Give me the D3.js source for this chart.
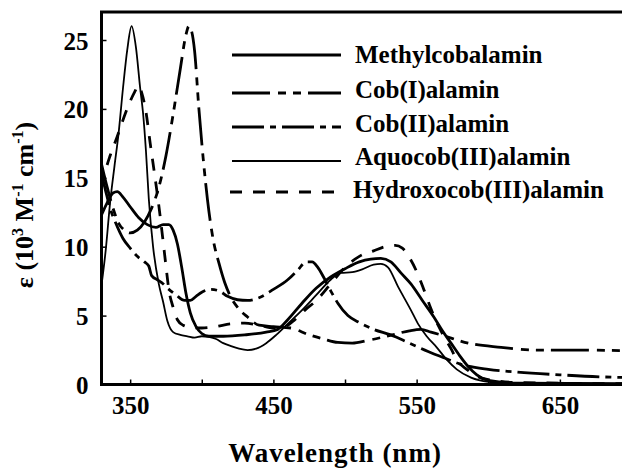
<!DOCTYPE html>
<html>
<head>
<meta charset="utf-8">
<script src="https://cdn.jsdelivr.net/npm/d3@7"></script>
<style>
  html, body { margin: 0; padding: 0; background: #fff; }
  svg { display: block; }
  text { font-family: "Liberation Serif", "Times New Roman", serif; font-weight: bold; fill: #000; }
</style>
</head>
<body>
<svg id="chart" width="622" height="468"></svg>
<script>
// Absorption spectra of cobalamins: [wavelength (nm), epsilon (10^3 M^-1 cm^-1)]
const methylcobalamin = [
  [330,12.3],[334,13.2],[338,13.9],[341,14.0],[345,13.6],[350,12.9],[356,12.1],[362,11.6],
  [368,11.4],[373,11.6],[377,11.6],[380,11.2],[383,10.2],[386,8.5],[389,6.6],[392,5.2],
  [396,4.2],[400,3.7],[405,3.5],[415,3.5],[430,3.6],[445,3.8],[453,4.0],[460,4.7],
  [470,5.9],[480,7.0],[490,7.8],[500,8.4],[510,8.9],[518,9.1],[525,9.15],[532,8.9],
  [539,8.1],[546,7.3],[554,6.1],[562,4.9],[568,3.9],[574,3.0],[580,2.1],[586,1.3],
  [592,0.7],[600,0.3],[620,0.1],[700,0.05]
];
const cobIalamin = [
  [330,16.0],[334,14.3],[338,12.8],[342,11.7],[346,11.2],[350,11.0],[355,11.2],[360,11.8],
  [365,12.8],[370,14.3],[375,16.6],[380,19.6],[385,22.9],[389,25.4],[391,26.0],[393,25.6],
  [395,24.2],[398,20.0],[401,16.4],[404,13.4],[408,10.5],[412,8.8],[416,7.4],[420,6.4],
  [425,5.6],[432,4.9],[440,4.3],[450,4.2],[462,4.1],[475,3.6],[485,3.3],[495,3.05],
  [505,3.0],[516,3.2],[533,3.6],[545,3.9],[553,4.0],[560,3.8],[567,3.6],[586,3.0],
  [609,2.7],[632,2.5],[660,2.5],[700,2.45]
];
const cobIIalamin = [
  [330,15.3],[333,14.0],[336,12.8],[340,11.7],[345,10.6],[350,9.9],[355,9.3],[360,8.9],
  [363,8.6],[365,7.9],[369,7.6],[372,7.4],[376,7.0],[382,6.5],[388,6.1],[392,6.1],
  [396,6.4],[400,6.7],[406,6.9],[412,6.8],[418,6.4],[425,6.15],[432,6.1],[440,6.3],
  [450,6.9],[460,7.6],[467,8.3],[473,8.9],[477,8.9],[481,8.5],[485,7.8],[490,6.8],
  [495,5.9],[502,5.0],[510,4.5],[520,4.0],[532,3.6],[545,3.0],[558,2.4],[570,1.9],
  [580,1.5],[600,1.1],[620,0.9],[650,0.7],[680,0.55],[700,0.5]
];
const aquocobalamin = [
  [330,7.2],[333,9.8],[336,13.2],[339,15.8],[342,18.3],[345,21.5],[348,24.3],[351,26.0],
  [354,24.5],[357,21.5],[359,19.7],[361,17.0],[363,13.5],[366,10.0],[370,7.3],[373,6.0],
  [376,4.6],[380,3.8],[385,3.6],[390,3.5],[395,3.4],[400,3.5],[405,3.45],[410,3.3],
  [415,3.0],[420,2.8],[426,2.6],[432,2.5],[438,2.6],[445,3.0],[452,3.6],[460,4.4],
  [470,5.4],[480,6.5],[490,7.6],[497,8.1],[505,8.15],[512,8.35],[520,8.7],[525,8.75],
  [530,8.5],[537,7.1],[546,5.4],[551,4.4],[557,3.5],[564,2.7],[571,1.8],[578,1.1],
  [588,0.5],[600,0.2],[620,0.08],[700,0.05]
];
const hydroxocobalamin = [
  [330,14.3],[333,15.6],[336,16.6],[341,18.0],[345,19.2],[349,20.3],[353,21.2],[356,21.7],
  [358,21.2],[361,19.8],[364,17.5],[367,15.3],[370,13.0],[373,10.4],[375,8.6],[377,6.9],
  [380,5.6],[383,4.7],[387,4.3],[392,4.15],[400,4.1],[410,4.2],[420,4.4],[430,4.45],
  [440,4.3],[450,4.1],[458,4.2],[465,4.7],[472,5.4],[480,6.1],[490,7.3],[500,8.5],
  [510,9.3],[520,9.7],[528,10.0],[535,10.1],[540,9.9],[545,9.2],[550,8.2],[555,6.9],
  [560,5.5],[565,4.3],[569,3.5],[574,2.6],[578,1.8],[585,1.1],[592,0.6],[600,0.35],
  [620,0.15],[700,0.05]
];

const seriesNames = ["Methylcobalamin", "Cob(I)alamin", "Cob(II)alamin", "Aquocob(III)alamin", "Hydroxocob(III)alamin"];
const seriesData = [methylcobalamin, cobIalamin, cobIIalamin, aquocobalamin, hydroxocobalamin];
const seriesDash = ["none", "38,8,8,7,8,7", "32,6,6,6", "none", "12,11"];
const seriesWidth = [2.8, 2.8, 2.8, 1.8, 2.8];

const xTicks = [350, 400, 450, 500, 550, 600, 650, 700];
const xTickLabels = [350, 450, 550, 650];
const yTicks = [0, 5, 10, 15, 20, 25];

const svg = d3.select("#chart");
const plotLeft = 101.5, plotRight = 631.5, plotTop = 12, plotBottom = 384.5;

const x = d3.scaleLinear().domain([330, 700]).range([plotLeft, plotRight]);
const y = d3.scaleLinear().domain([0, 25]).range([plotBottom, 40]);

svg.append("defs").append("clipPath").attr("id", "plot")
  .append("rect").attr("x", plotLeft).attr("y", plotTop)
  .attr("width", plotRight - plotLeft).attr("height", plotBottom - plotTop);

// curves
const line = d3.line().x(d => x(d[0])).y(d => y(d[1])).curve(d3.curveMonotoneX);
const g = svg.append("g").attr("clip-path", "url(#plot)");
seriesData.forEach((data, i) => {
  g.append("path")
    .attr("d", line(data))
    .attr("fill", "none")
    .attr("stroke", "#000")
    .attr("stroke-width", seriesWidth[i])
    .attr("stroke-dasharray", seriesDash[i])
    .attr("stroke-linejoin", "round");
});

// axes
const xAxis = d3.axisBottom(x).tickValues(xTicks).tickSizeInner(-5).tickSizeOuter(0)
  .tickFormat(d => xTickLabels.includes(d) ? d : "");
const gx = svg.append("g").attr("transform", `translate(0,${plotBottom})`).call(xAxis);
gx.select(".domain").remove();
gx.selectAll(".tick line").attr("stroke", "#000").attr("stroke-width", 1.5);
gx.selectAll(".tick text").attr("font-size", 25).attr("y", 6).attr("dy", "0.95em")
  .style("font-family", "'Liberation Serif', serif").style("font-weight", "bold");

const yAxis = d3.axisLeft(y).tickValues(yTicks).tickSizeInner(-5).tickSizeOuter(0).tickPadding(13);
const gy = svg.append("g").attr("transform", `translate(${plotLeft},0)`).call(yAxis);
gy.select(".domain").remove();
gy.selectAll(".tick line").attr("stroke", "#000").attr("stroke-width", 1.5);
gy.selectAll(".tick text").attr("font-size", 25).attr("x", -13).attr("dy", "0.36em")
  .style("font-family", "'Liberation Serif', serif").style("font-weight", "bold");

// frame
svg.append("path")
  .attr("d", `M${plotRight},${plotTop}H${plotLeft}V${plotBottom}H${plotRight}`)
  .attr("fill", "none").attr("stroke", "#000").attr("stroke-width", 3);

// legend
const legendLineY = [55, 93, 127, 161, 192];
const legendTextY = [63, 98, 132, 165, 198];
const legend = svg.append("g");
seriesNames.forEach((name, i) => {
  legend.append("line")
    .attr("x1", i === 4 ? 230 : 232).attr("x2", 341)
    .attr("y1", legendLineY[i]).attr("y2", legendLineY[i])
    .attr("stroke", "#000")
    .attr("stroke-width", seriesWidth[i])
    .attr("stroke-dasharray", seriesDash[i]);
  legend.append("text")
    .attr("x", i === 4 ? 353 : 355).attr("y", legendTextY[i])
    .attr("font-size", 25)
    .text(name);
});

// axis titles
svg.append("text")
  .attr("x", 335).attr("y", 462)
  .attr("text-anchor", "middle")
  .attr("font-size", 27)
  .attr("letter-spacing", 1)
  .text("Wavelength (nm)");

const yt = svg.append("text")
  .attr("transform", "translate(33,205) rotate(-90)")
  .attr("text-anchor", "middle")
  .attr("font-size", 26);
yt.append("tspan").text("ε (10");
yt.append("tspan").attr("font-size", 16).attr("dy", -10).text("3");
yt.append("tspan").attr("dy", 10).text(" M");
yt.append("tspan").attr("font-size", 16).attr("dy", -10).text("-1");
yt.append("tspan").attr("dy", 10).text(" cm");
yt.append("tspan").attr("font-size", 16).attr("dy", -10).text("-1");
yt.append("tspan").attr("dy", 10).text(")");
</script>
</body>
</html>
